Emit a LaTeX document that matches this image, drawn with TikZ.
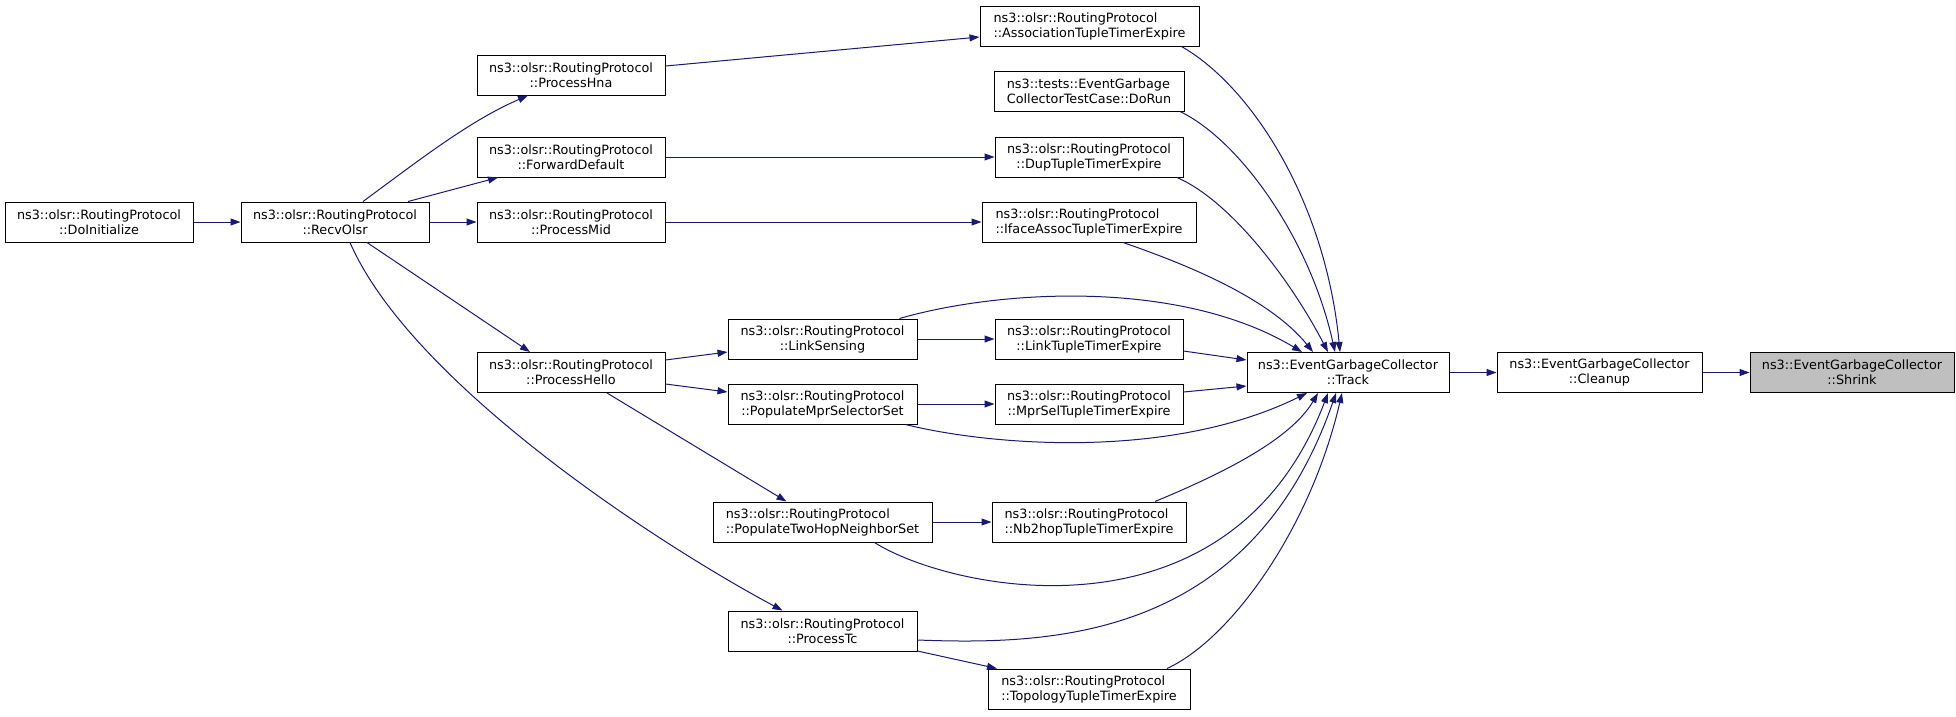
\documentclass[tikz,border=0pt]{standalone}
\usepackage{fontspec}
\setmainfont{DejaVu Sans}
\usetikzlibrary{arrows.meta}
\definecolor{edgec}{HTML}{191970}
\definecolor{curfill}{HTML}{BFBFBF}
\tikzset{
  box/.style={draw=black, line width=1pt, fill=white, inner sep=0pt, minimum height=40pt,
    align=center, font=\fontsize{12.8}{15}\selectfont},
  lbox/.style={box, align=left},
  e/.style={draw=edgec, line width=1pt, -{Triangle[length=10pt,width=7pt]}}
}
\begin{document}
\begin{tikzpicture}[x=1pt,y=-1pt]
\useasboundingbox (0,0) rectangle (1956,716);
% nodes
\node[box, minimum width=188] (doinit) at (99,222) {ns3::olsr::RoutingProtocol\\::DoInitialize};
\node[box, minimum width=188] (recv) at (335,222) {ns3::olsr::RoutingProtocol\\::RecvOlsr};
\node[box, minimum width=188] (hna) at (571,75) {ns3::olsr::RoutingProtocol\\::ProcessHna};
\node[box, minimum width=188] (fwd) at (571,157) {ns3::olsr::RoutingProtocol\\::ForwardDefault};
\node[box, minimum width=188] (mid) at (571,222) {ns3::olsr::RoutingProtocol\\::ProcessMid};
\node[box, minimum width=188] (hello) at (571,372.5) {ns3::olsr::RoutingProtocol\\::ProcessHello};
\node[box, minimum width=189] (links) at (822.5,339) {ns3::olsr::RoutingProtocol\\::LinkSensing};
\node[box, minimum width=189] (popmpr) at (822.5,404) {ns3::olsr::RoutingProtocol\\::PopulateMprSelectorSet};
\node[lbox, minimum width=219] (poptwo) at (822.5,522) {ns3::olsr::RoutingProtocol\\::PopulateTwoHopNeighborSet};
\node[box, minimum width=189] (ptc) at (822.5,631) {ns3::olsr::RoutingProtocol\\::ProcessTc};
\node[lbox, minimum width=219] (assoc) at (1089.5,26) {ns3::olsr::RoutingProtocol\\::AssociationTupleTimerExpire};
\node[lbox, minimum width=190] (dorun) at (1089,91) {ns3::tests::EventGarbage\\CollectorTestCase::DoRun};
\node[box, minimum width=188] (dup) at (1089,157) {ns3::olsr::RoutingProtocol\\::DupTupleTimerExpire};
\node[lbox, minimum width=214] (iface) at (1089,222) {ns3::olsr::RoutingProtocol\\::IfaceAssocTupleTimerExpire};
\node[box, minimum width=188] (linkt) at (1089,339) {ns3::olsr::RoutingProtocol\\::LinkTupleTimerExpire};
\node[box, minimum width=188] (mprsel) at (1089,404) {ns3::olsr::RoutingProtocol\\::MprSelTupleTimerExpire};
\node[lbox, minimum width=194] (nb2) at (1089,522) {ns3::olsr::RoutingProtocol\\::Nb2hopTupleTimerExpire};
\node[lbox, minimum width=202] (topo) at (1089,689) {ns3::olsr::RoutingProtocol\\::TopologyTupleTimerExpire};
\node[box, minimum width=202] (track) at (1348,372.5) {ns3::EventGarbageCollector\\::Track};
\node[box, minimum width=205] (cleanup) at (1599.5,372.5) {ns3::EventGarbageCollector\\::Cleanup};
\node[box, minimum width=204, fill=curfill] (shrink) at (1852,372.5) {ns3::EventGarbageCollector\\::Shrink};
% edges
\draw[e] (doinit.east) -- (recv.west);
\draw[e] ([xshift=28]recv.north) .. controls +(57,-42) and +(-58,25) .. ([xshift=-43]hna.south);
\draw[e] ([xshift=73]recv.north) -- ([xshift=-73]fwd.south);
\draw[e] (recv.east) -- (mid.west);
\draw[e] ([xshift=32]recv.south) -- ([xshift=-41]hello.north);
\draw[e] ([xshift=15]recv.south) .. controls +(60,138) and +(-132.5,-71) .. ([xshift=-40]ptc.north);
\draw[e] ([yshift=9]hna.east) -- ([yshift=-11]assoc.west);
\draw[e] (fwd.east) -- (dup.west);
\draw[e] (mid.east) -- (iface.west);
\draw[e] ([yshift=12.5]hello.east) -- ([yshift=-13]links.west);
\draw[e] ([yshift=-11.5]hello.east) -- ([yshift=12]popmpr.west);
\draw[e] ([xshift=36]hello.south) -- ([xshift=-36]poptwo.north);
\draw[e] (links.east) -- (linkt.west);
\draw[e] ([xshift=77]links.north) .. controls +(100.5,-29) and +(-122,-73) .. ([xshift=-46]track.north);
\draw[e] (popmpr.east) -- (mprsel.west);
\draw[e] ([xshift=83]popmpr.south) .. controls +(84.5,21) and +(-137,67.5) .. ([xshift=-41]track.south);
\draw[e] (poptwo.east) -- (nb2.west);
\draw[e] ([xshift=52]poptwo.south) .. controls +(75.5,48) and +(-98,257.5) .. ([xshift=-20]track.south);
\draw[e] ([yshift=-9]ptc.east) .. controls +(133,5) and +(-86,247.5) .. ([xshift=-12]track.south);
\draw[e] ([yshift=-20]ptc.east) -- ([xshift=-92]topo.north);
\draw[e] ([xshift=66]nb2.north) .. controls +(65,-27) and +(-28,47.5) .. ([xshift=-30]track.south);
\draw[e] ([xshift=78]topo.north) .. controls +(63,-29) and +(-32,137.5) .. ([xshift=-6]track.south);
\draw[e] ([xshift=92]assoc.south) .. controls +(68.5,39) and +(-15,-153) .. ([xshift=-8]track.north);
\draw[e] ([xshift=91]dorun.south) .. controls +(60,29) and +(-25,-113) .. ([xshift=-13]track.north);
\draw[e] ([xshift=88]dup.south) .. controls +(53,23) and +(-38,-73) .. ([xshift=-20]track.north);
\draw[e] ([xshift=34]iface.south) .. controls +(67,23) and +(-43,-53) .. ([xshift=-35]track.north);
\draw[e] ([yshift=-12]linkt.east) -- ([yshift=12.5]track.west);
\draw[e] ([yshift=12]mprsel.east) -- ([yshift=-13.5]track.west);
\draw[e] (track.east) -- (cleanup.west);
\draw[e] (cleanup.east) -- (shrink.west);
\end{tikzpicture}
\end{document}
